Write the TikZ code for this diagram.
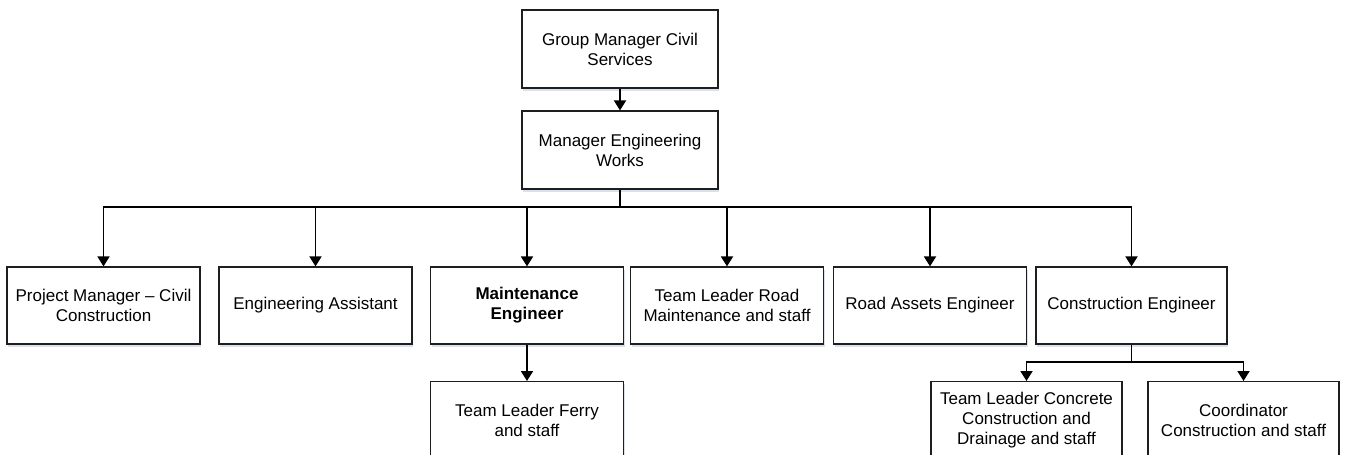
\documentclass[tikz,border=0pt]{standalone}
\usepackage{fontspec}
\setmainfont{Liberation Sans}
\usetikzlibrary{arrows.meta,shadows}
\definecolor{boxline}{RGB}{30,30,30}
\definecolor{shadowblue}{RGB}{190,205,225}
\tikzset{
  box/.style={draw=boxline, line width=1.2pt, fill=white, rectangle,
    minimum width=193pt, minimum height=77pt, align=center, inner sep=2pt,
    font=\fontsize{17}{20}\selectfont,
    drop shadow={shadow xshift=1pt, shadow yshift=-2.5pt, fill=shadowblue, opacity=0.6}},
  link/.style={draw=black, line width=1.8pt,
    -{Triangle[width=12pt,length=10pt]}},
  plain/.style={draw=black, line width=1.8pt}
}
\begin{document}
\begin{tikzpicture}[x=1pt,y=-1pt]
\useasboundingbox (0,0) rectangle (1345,455);
\clip (0,0) rectangle (1345,455);
\fill[white] (0,0) rectangle (1345,455);

% levels of the chart
\node[box, minimum width=196pt, minimum height=78pt] (gm) at (620,49) {Group Manager Civil\\Services};
\node[box, minimum width=196pt, minimum height=78pt] (mew) at (620,150) {Manager Engineering\\Works};

\node[box] (pm)  at (103.5,305.5) {Project Manager -- Civil\\Construction};
\node[box] (ea)  at (315.5,305.5) {Engineering Assistant};
\node[box] (me)  at (527,305.5)   {\bfseries Maintenance\\\bfseries Engineer};
\node[box] (tlr) at (727,305.5)   {Team Leader Road\\Maintenance and staff};
\node[box] (rae) at (930,305.5)   {Road Assets Engineer};
\node[box, minimum width=191pt] (ce)  at (1131.5,305.5) {Construction Engineer};

\node[box, anchor=north] (tlf) at (527,381) {Team Leader Ferry\\and staff};
\node[box, anchor=north, minimum width=191pt] (tlc) at (1026.5,381) {Team Leader Concrete\\Construction and\\Drainage and staff};
\node[box, anchor=north, minimum width=191pt] (co)  at (1243.5,381) {Coordinator\\Construction and staff};

% bus lines
\coordinate (bus) at (0,207);
\coordinate (subbus) at (0,362);

\draw[link] (gm.south) -- (mew.north);
\draw[plain] (mew.south) -- (mew.south |- bus);
\foreach \n in {pm,ea,me,tlr,rae,ce}
  \draw[link] (mew.south |- bus) -| (\n.north);
\draw[link] (me.south) -- (tlf.north);
\draw[plain] (ce.south) -- (ce.south |- subbus);
\draw[link] (ce.south |- subbus) -| (tlc.north);
\draw[link] (ce.south |- subbus) -| (co.north);
\end{tikzpicture}
\end{document}
